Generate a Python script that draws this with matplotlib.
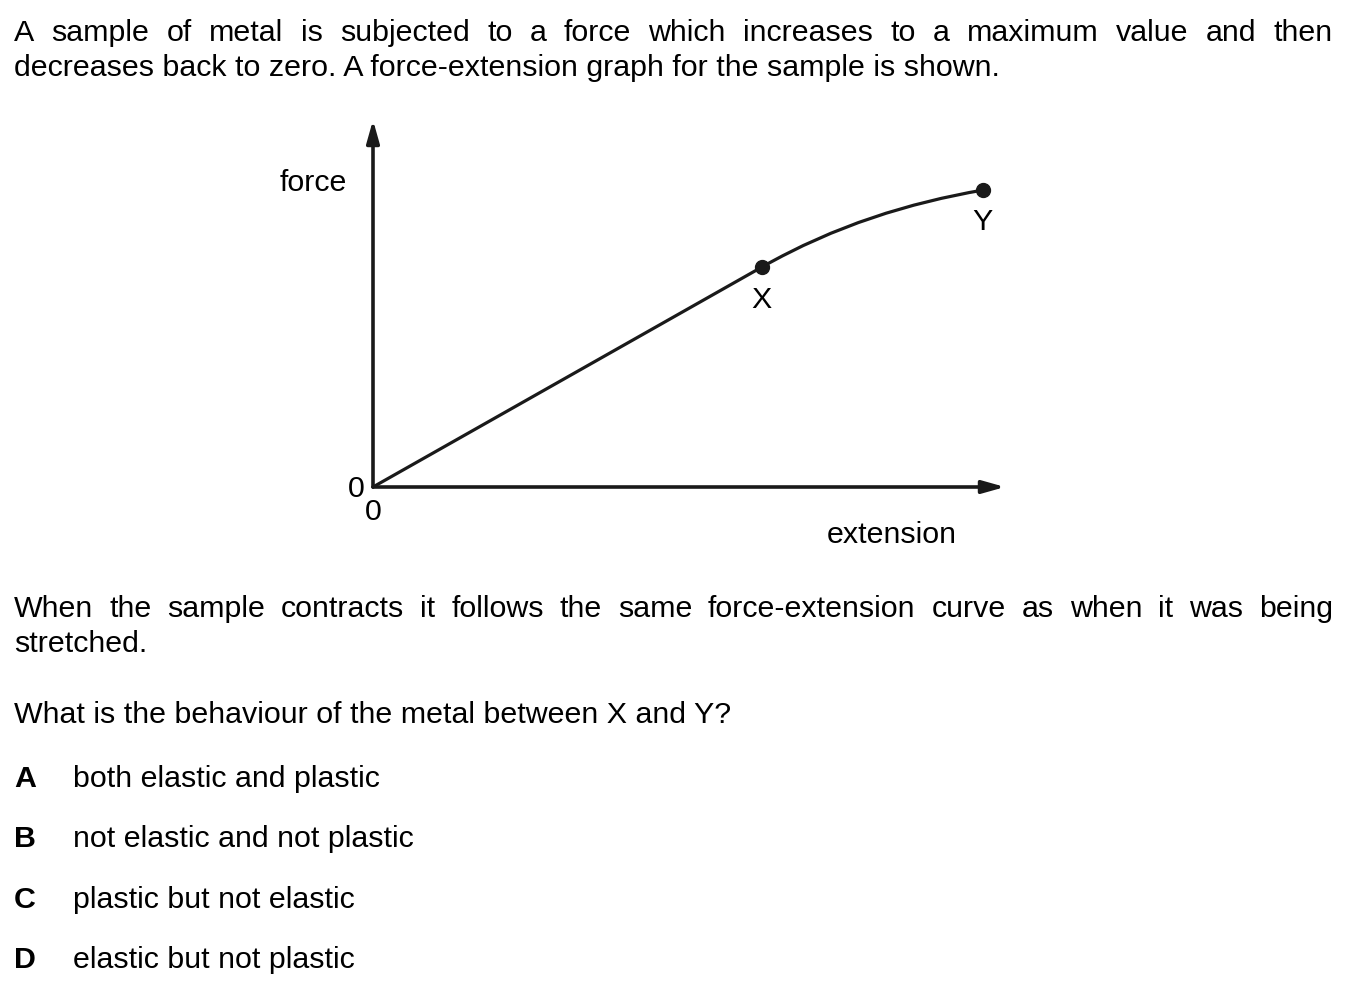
import numpy as np
import matplotlib
matplotlib.use("Agg")
import matplotlib.pyplot as plt
from matplotlib.path import Path
from matplotlib.patches import PathPatch

plt.rcParams['font.family'] = ['Liberation Sans', 'DejaVu Sans']

# force-extension graph (arbitrary units, origin at 0,0)
line_ext = [0.0, 6.15]
line_force = [0.0, 5.99]
# X -> Y curve, as cubic bezier control points
curve_ext = [6.15, 7.32, 8.48, 9.65]
curve_force = [5.99, 7.13, 7.74, 8.09]
point_labels = ['X', 'Y']
point_ext = [6.15, 9.65]
point_force = [5.99, 8.09]

intro = ["A sample of metal is subjected to a force which increases to a maximum value and then",
         "decreases back to zero. A force-extension graph for the sample is shown."]
after = ["When the sample contracts it follows the same force-extension curve as when it was being",
         "stretched."]
question = "What is the behaviour of the metal between X and Y?"
letters = ['A', 'B', 'C', 'D']
options = ['both elastic and plastic', 'not elastic and not plastic',
           'plastic but not elastic', 'elastic but not plastic']

W, H = 1347, 994
fig = plt.figure(figsize=(W / 100, H / 100), dpi=100)
FS = 21.9
INK = '#1a1a1a'


def px(x, y):
    return x / W, 1 - y / H


def put(x, y, s, **kw):
    return fig.text(*px(x, y), s, fontsize=kw.pop('fontsize', FS), va='baseline', color='black', **kw)


def justified(y, line, left=14, right=1333):
    words = line.split()
    txts = [put(left, y, w) for w in words]
    fig.canvas.draw()
    r = fig.canvas.get_renderer()
    widths = [t.get_window_extent(r).width for t in txts]
    gap = (right - left - sum(widths)) / (len(words) - 1)
    x = left
    for t, w in zip(txts, widths):
        t.set_position(px(x, y))
        x += w + gap


justified(41, intro[0])
put(14, 76, intro[1])
justified(617, after[0])
put(14, 652, after[1])
put(14, 723, question)
for i, (l, o) in enumerate(zip(letters, options)):
    yy = 787 + i * 60.3
    put(14, yy, l, fontweight='bold')
    put(73, yy, o)

# graph axes: origin at pixel (373, 487)
x0, y0, x1, y1 = 373, 487, 1005, 120
ax = fig.add_axes([x0 / W, 1 - y0 / H, (x1 - x0) / W, (y0 - y1) / H])
ax.set_xlim(0, 10)
ax.set_ylim(0, 10)
ax.axis('off')

arrow = dict(arrowstyle='-|>,head_length=1.35,head_width=0.38', color=INK, lw=2.6,
             shrinkA=0, shrinkB=0)
ax.annotate('', xy=(10, 0), xytext=(0, 0), arrowprops=arrow, annotation_clip=False)
ax.annotate('', xy=(0, 10), xytext=(0, 0), arrowprops=arrow, annotation_clip=False)

ax.plot(line_ext, line_force, color=INK, lw=2.3, solid_capstyle='round', clip_on=False)
bez = Path(list(zip(curve_ext, curve_force)), [Path.MOVETO, Path.CURVE4, Path.CURVE4, Path.CURVE4])
ax.add_patch(PathPatch(bez, facecolor='none', edgecolor=INK, lw=2.3, clip_on=False))
ax.plot(point_ext, point_force, 'o', color=INK, ms=10, clip_on=False)

# labels
for lab, xe, yf in zip(point_labels, point_ext, point_force):
    ax.text(xe, yf - 0.5, lab, ha='center', va='top', fontsize=FS)
put(347, 191, 'force', ha='right')
put(356, 497, '0', ha='center')
put(373, 520, '0', ha='center')
put(892, 543, 'extension', ha='center')

fig.savefig('out.png', dpi=100)
